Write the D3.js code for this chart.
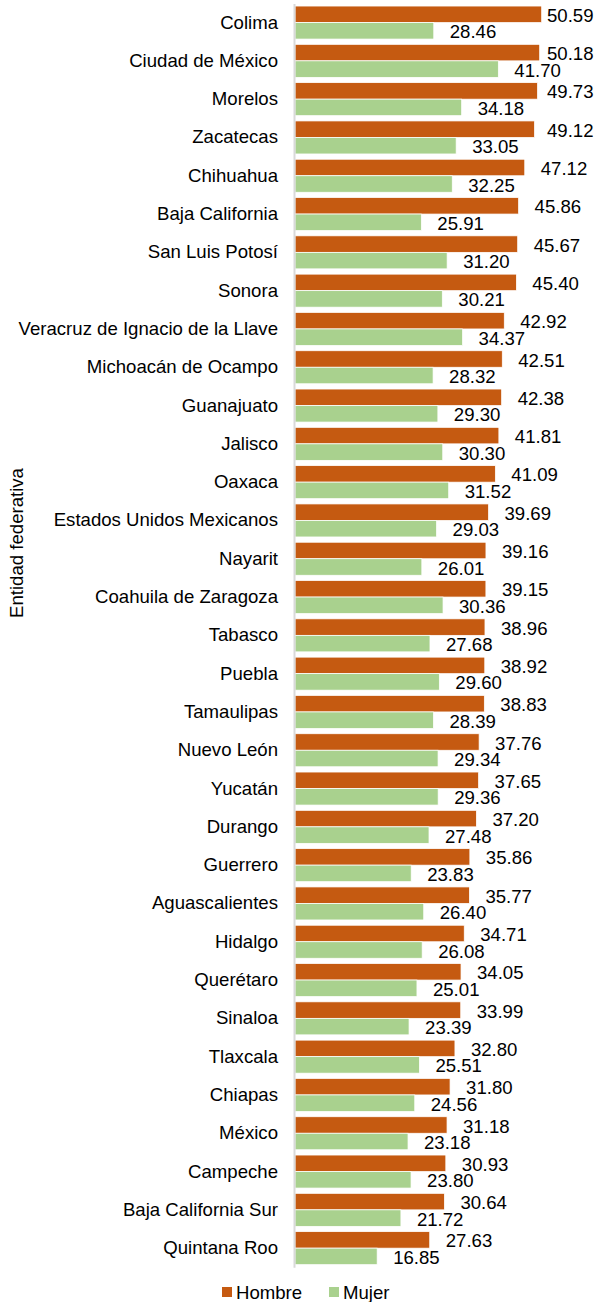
<!DOCTYPE html>
<html>
<head>
<meta charset="utf-8">
<script src="https://cdn.jsdelivr.net/npm/d3@7"></script>
<style>
	body { margin: 0; background: #fff; }
	svg text { font-family: "Liberation Sans", Arial, sans-serif; font-size: 18.6px; fill: #000; }
</style>
</head>
<body>
<svg id="chart" width="597" height="1302"></svg>
<script>
const states = ["Colima", "Ciudad de México", "Morelos", "Zacatecas", "Chihuahua", "Baja California",
	"San Luis Potosí", "Sonora", "Veracruz de Ignacio de la Llave", "Michoacán de Ocampo", "Guanajuato",
	"Jalisco", "Oaxaca", "Estados Unidos Mexicanos", "Nayarit", "Coahuila de Zaragoza", "Tabasco", "Puebla",
	"Tamaulipas", "Nuevo León", "Yucatán", "Durango", "Guerrero", "Aguascalientes", "Hidalgo", "Querétaro",
	"Sinaloa", "Tlaxcala", "Chiapas", "México", "Campeche", "Baja California Sur", "Quintana Roo"];

const hombre = [50.59, 50.18, 49.73, 49.12, 47.12, 45.86, 45.67, 45.40, 42.92, 42.51, 42.38, 41.81, 41.09,
	39.69, 39.16, 39.15, 38.96, 38.92, 38.83, 37.76, 37.65, 37.20, 35.86, 35.77, 34.71, 34.05, 33.99, 32.80,
	31.80, 31.18, 30.93, 30.64, 27.63];

const mujer = [28.46, 41.70, 34.18, 33.05, 32.25, 25.91, 31.20, 30.21, 34.37, 28.32, 29.30, 30.30, 31.52,
	29.03, 26.01, 30.36, 27.68, 29.60, 28.39, 29.34, 29.36, 27.48, 23.83, 26.40, 26.08, 25.01, 23.39, 25.51,
	24.56, 23.18, 23.80, 21.72, 16.85];

const seriesNames = ["Hombre", "Mujer"];
const colors = {Hombre: "#c55a11", Mujer: "#a9d18e"};

const svg = d3.select("#chart");

const x = d3.scaleLinear()
	.domain([0, 60])
	.range([295, 295 + 60 * 4.876]);

const y = d3.scaleBand()
	.domain(states)
	.range([3.4, 1267.3])
	.paddingInner(0.138)
	.paddingOuter(0.069);

const ySub = d3.scaleBand()
	.domain(seriesNames)
	.range([0, y.bandwidth()]);

const rows = states.map((s, i) => ({state: s, Hombre: hombre[i], Mujer: mujer[i]}));

// bars
const groups = svg.append("g")
	.selectAll("g")
	.data(rows)
	.join("g")
	.attr("transform", d => `translate(0,${y(d.state)})`);

groups.selectAll("rect")
	.data(d => seriesNames.map(k => ({key: k, value: d[k]})))
	.join("rect")
	.attr("x", x(0))
	.attr("y", d => ySub(d.key))
	.attr("width", d => x(d.value) - x(0))
	.attr("height", ySub.bandwidth())
	.attr("fill", d => colors[d.key])
	.attr("stroke", "#fff")
	.attr("stroke-width", 0.75);

// labels pushed inside the plot when they would run off the right edge
groups.selectAll("text.value")
	.data(d => seriesNames.map(k => ({key: k, value: d[k]})))
	.join("text")
	.attr("class", "value")
	.attr("x", d => Math.min(x(d.value) + 16, 547))
	.attr("y", d => ySub(d.key) + ySub.bandwidth() / 2 + 1)
	.attr("dy", "0.35em")
	.text(d => d3.format(".2f")(d.value));

// category axis
const yAxis = d3.axisLeft(y)
	.tickSize(0)
	.tickPadding(16);

const gY = svg.append("g")
	.attr("transform", "translate(294,0)")
	.call(yAxis);

gY.select(".domain")
	.attr("stroke", "#d9d9d9")
	.attr("stroke-width", 2);

gY.selectAll("text")
	.attr("fill", null);

// axis title
svg.append("text")
	.attr("transform", "translate(23,543) rotate(-90)")
	.attr("text-anchor", "middle")
	.text("Entidad federativa");

// legend
const legend = svg.append("g")
	.selectAll("g")
	.data(seriesNames)
	.join("g")
	.attr("transform", (d, i) => `translate(${222 + i * 107},1287)`);

legend.append("rect")
	.attr("width", 10)
	.attr("height", 10)
	.attr("fill", d => colors[d]);

legend.append("text")
	.attr("x", 14)
	.attr("y", 5)
	.attr("dy", "0.35em")
	.text(d => d);
</script>
</body>
</html>
